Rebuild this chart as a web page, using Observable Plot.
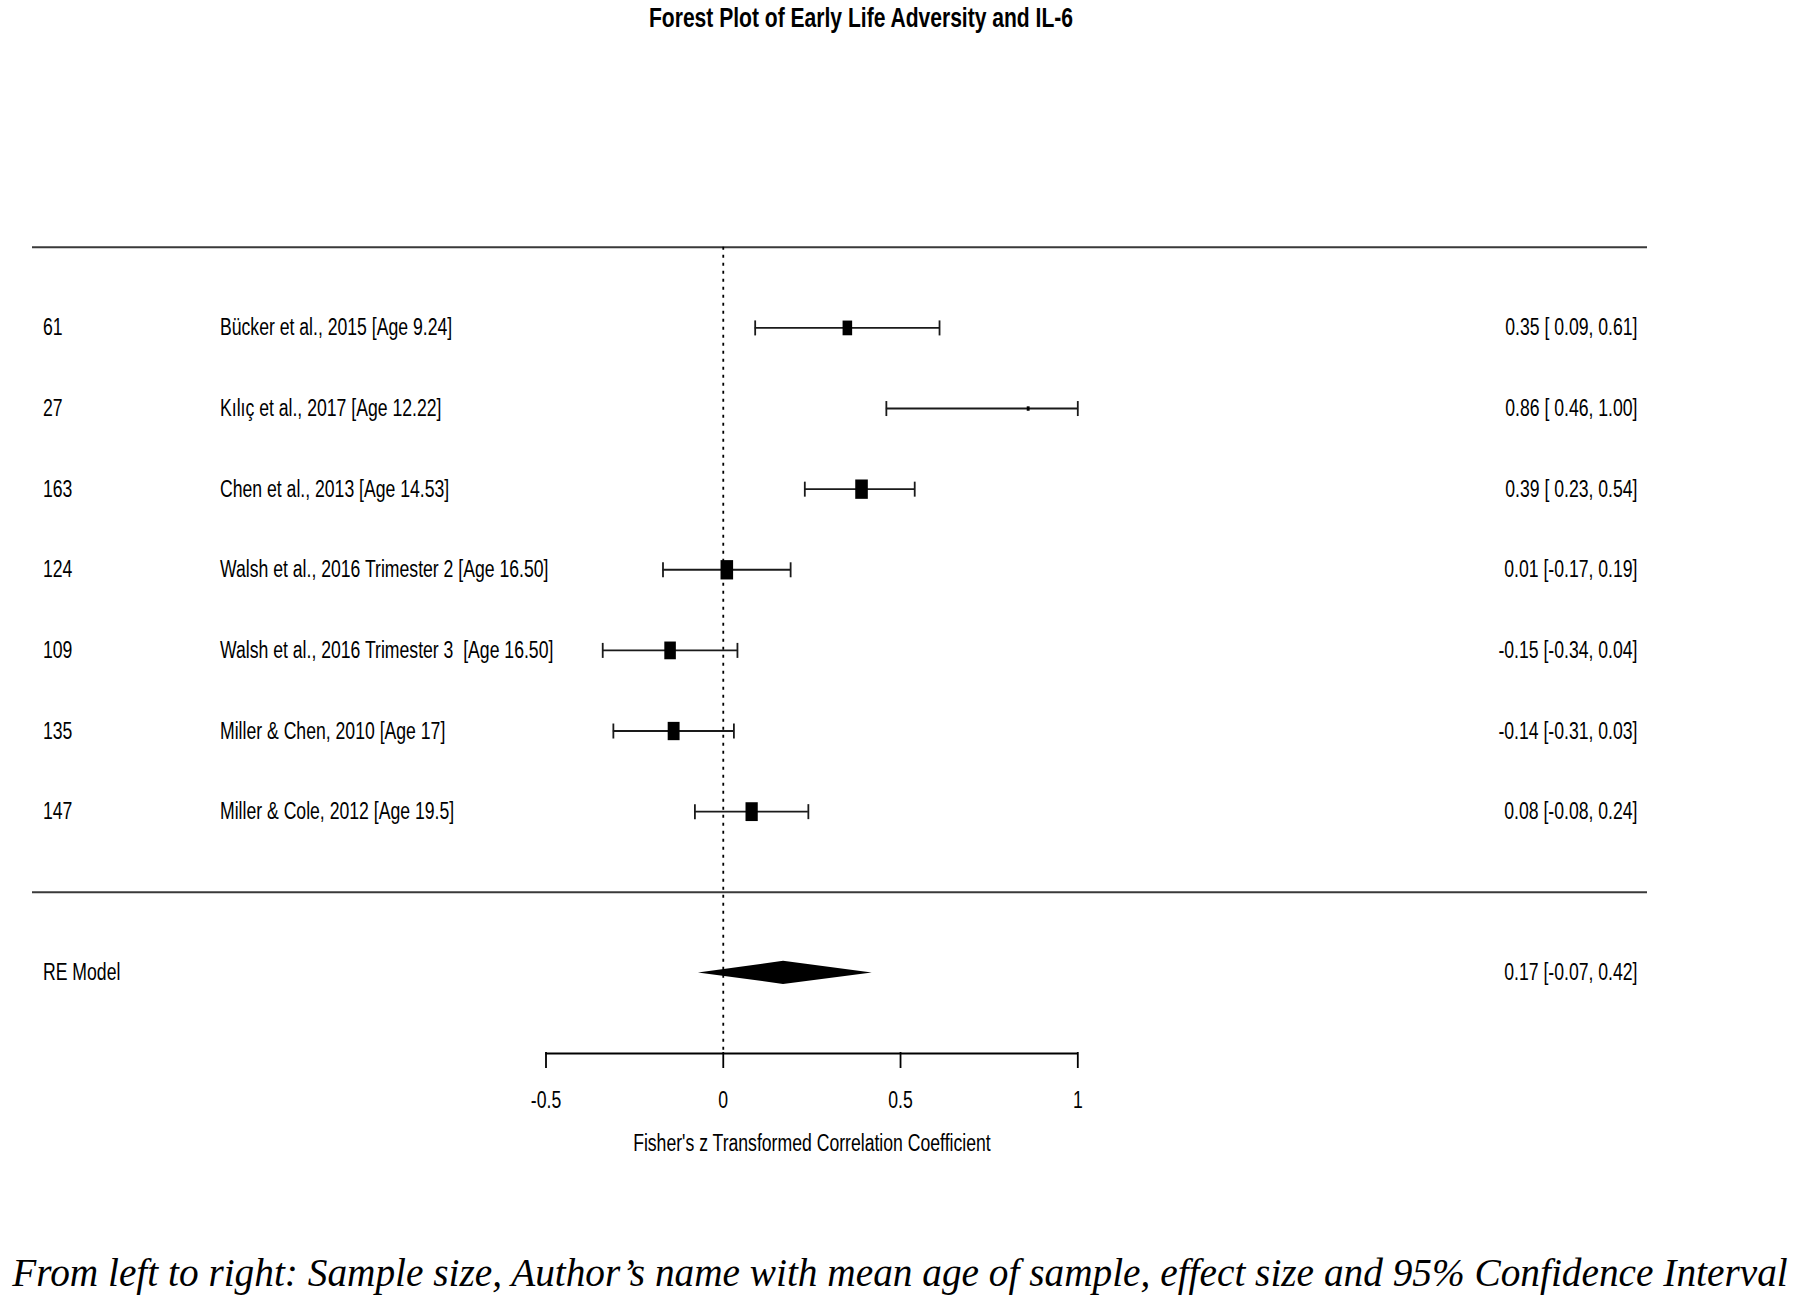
<!DOCTYPE html>
<html><head><meta charset="utf-8">
<script src="https://cdn.jsdelivr.net/npm/d3@7"></script>
<script src="https://cdn.jsdelivr.net/npm/@observablehq/plot@0.6"></script>
<style>
html,body{margin:0;padding:0;background:#fff;width:1800px;}
#title{position:relative;height:50px;}
#title span{position:absolute;left:861px;top:5px;font:bold 27px/27px "Liberation Sans",Arial,sans-serif;white-space:nowrap;transform:translateX(-50%) scaleX(0.78);color:#000;}
#chart svg{display:block;}
#chart svg text{white-space:pre;}
#caption{height:64px;box-sizing:border-box;padding-top:14px;text-align:center;font:italic 39.3px/39px "Liberation Serif","Times New Roman",serif;white-space:nowrap;color:#000;}
</style></head>
<body>
<div id="title"><span>Forest Plot of Early Life Adversity and IL-6</span></div>
<div id="chart"></div>
<div id="caption">From left to right: Sample size, Author’s name with mean age of sample, effect size and 95% Confidence Interval</div>
<script>
// ---- data ----
const sampleSizes = [61, 27, 163, 124, 109, 135, 147];
const studies = [
  "Bücker et al., 2015 [Age 9.24]",
  "Kılıç et al., 2017 [Age 12.22]",
  "Chen et al., 2013 [Age 14.53]",
  "Walsh et al., 2016 Trimester 2 [Age 16.50]",
  "Walsh et al., 2016 Trimester 3  [Age 16.50]",
  "Miller & Chen, 2010 [Age 17]",
  "Miller & Cole, 2012 [Age 19.5]"
];
const estimates = [0.35, 0.86, 0.39, 0.01, -0.15, -0.14, 0.08];
const lowerCI   = [0.09, 0.46, 0.23, -0.17, -0.34, -0.31, -0.08];
const upperCI   = [0.61, 1.00, 0.54, 0.19, 0.04, 0.03, 0.24];
const weights   = [11, 1, 19, 19, 16, 17, 18]; // relative marker weights (%)
const reLabel = "RE Model";
const reEstimate = 0.17, reLower = -0.07, reUpper = 0.42;
const xTicks = [-0.5, 0, 0.5, 1];
const xTitle = "Fisher's z Transformed Correlation Coefficient";

// ---- build table ----
const k = studies.length;
const rows = studies.map((s, i) => ({
  row: i + 1, n: sampleSizes[i], study: s,
  est: estimates[i], lo: lowerCI[i], hi: upperCI[i], w: weights[i]
}));
const sepRow = k + 1, reRow = k + 2, axisRow = k + 3;
const f2 = v => v.toFixed(2);
const ciText = (e, l, h) => `${f2(e)} [${l >= 0 ? " " : ""}${f2(l)}, ${f2(h)}]`;
const diamondHalf = 0.143; // diamond half-height in row units
const diamond = [
  {x: reLower, y1: reRow, y2: reRow},
  {x: reEstimate, y1: reRow - diamondHalf, y2: reRow + diamondHalf},
  {x: reUpper, y1: reRow, y2: reRow}
];

// custom symbols: tall box (R's stretched square) and vertical CI cap
const boxSymbol = {draw(ctx, size) {
  const w = Math.sqrt(size * 0.65), h = size / w;
  ctx.rect(-w / 2, -h / 2, w, h);
}};
const capSymbol = {draw(ctx, size) {
  const h = Math.sqrt(size / Math.PI);
  ctx.moveTo(0, -h); ctx.lineTo(0, h);
}};

const fs = 23.5;
const chart = Plot.plot({
  width: 1800, height: 1190,
  marginLeft: 42.5, marginRight: 163, marginTop: 0, marginBottom: 188,
  style: {fontFamily: "'Liberation Sans', Arial, sans-serif", fontSize: fs + "px", color: "#000", background: "#fff"},
  x: {domain: d3.extent(xTicks), range: [545.5, 1077.3], label: null},
  y: {domain: [0, axisRow], range: [196.8, 1003], axis: null},
  r: {type: "sqrt", domain: [0, d3.max(weights)], range: [0, 8.8]},
  marks: [
    Plot.ruleY([0, sepRow], {stroke: "#3a3a3a", strokeWidth: 2, insetLeft: -10.5, insetRight: -10}),
    Plot.ruleX([0], {y1: 0, y2: axisRow, stroke: "#000", strokeWidth: 1.8, strokeDasharray: "3,5"}),
    Plot.ruleY(rows, {y: "row", x1: "lo", x2: "hi", stroke: "#1a1a1a", strokeWidth: 1.9}),
    Plot.dot(rows, {x: "lo", y: "row", symbol: capSymbol, r: 7.5, stroke: "#1a1a1a", strokeWidth: 1.8, fill: "none"}),
    Plot.dot(rows, {x: "hi", y: "row", symbol: capSymbol, r: 7.5, stroke: "#1a1a1a", strokeWidth: 1.8, fill: "none"}),
    Plot.dot(rows, {x: "est", y: "row", r: "w", symbol: boxSymbol, fill: "#000", stroke: "none"}),
    Plot.areaY(diamond, {x: "x", y1: "y1", y2: "y2", fill: "#000"}),
    Plot.ruleY([axisRow], {x1: d3.min(xTicks), x2: d3.max(xTicks), stroke: "#000", strokeWidth: 1.8}),
    Plot.axisX({ticks: xTicks, tickSize: 16, tickPadding: 23, tickFormat: d => String(d), fontSize: fs, label: null, strokeWidth: 1.8}),
    Plot.text([{x: d3.mean(d3.extent(xTicks)), t: xTitle}], {x: "x", text: "t", frameAnchor: "bottom", dy: 98, fontSize: fs}),
    Plot.text(rows, {y: "row", text: d => String(d.n), frameAnchor: "left", textAnchor: "start", fontSize: fs}),
    Plot.text(rows, {y: "row", text: "study", frameAnchor: "left", textAnchor: "start", dx: 177, fontSize: fs}),
    Plot.text(rows, {y: "row", text: d => ciText(d.est, d.lo, d.hi), frameAnchor: "right", textAnchor: "end", fontSize: fs}),
    Plot.text([{y: reRow, t: reLabel}], {y: "y", text: "t", frameAnchor: "left", textAnchor: "start", fontSize: fs}),
    Plot.text([{y: reRow, t: ciText(reEstimate, reLower, reUpper)}], {y: "y", text: "t", frameAnchor: "right", textAnchor: "end", fontSize: fs})
  ]
});
document.getElementById("chart").appendChild(chart);

// narrow the glyphs horizontally like the reference's condensed text
chart.querySelectorAll("text").forEach(t => {
  let tr = t.getAttribute("transform") || "";
  if (!/translate/.test(tr)) {
    const x = +(t.getAttribute("x") || 0), y = +(t.getAttribute("y") || 0);
    t.removeAttribute("x"); t.removeAttribute("y");
    tr = `translate(${x},${y}) ` + tr;
  }
  t.setAttribute("transform", tr + " scale(0.75,1)");
});
</script>
</body></html>
